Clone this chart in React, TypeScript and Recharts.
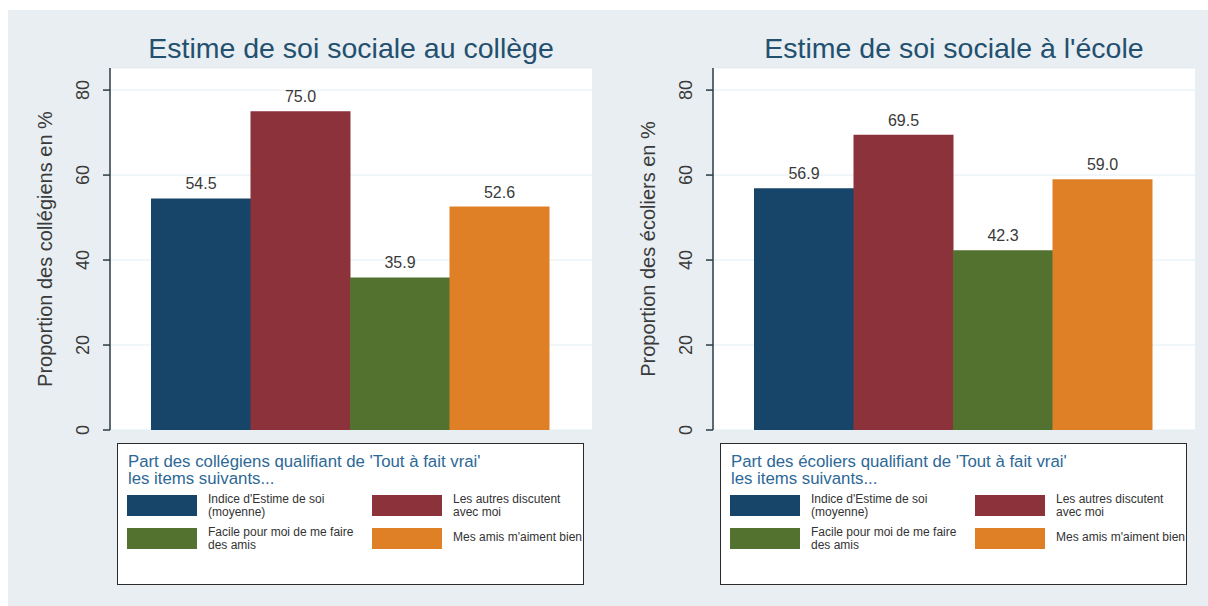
import { BarChart, Bar, XAxis, YAxis, CartesianGrid, Cell, LabelList } from 'recharts'

const items = [
  ["Indice d'Estime de soi", '(moyenne)'],
  ['Les autres discutent', 'avec moi'],
  ['Facile pour moi de me faire', 'des amis'],
  ["Mes amis m'aiment bien"]
]
const collegeValues = [54.5, 75.0, 35.9, 52.6]
const ecoleValues = [56.9, 69.5, 42.3, 59.0]
const yTicks = [0, 20, 40, 60, 80]

const COLORS = ['#164569', '#8b323a', '#53722f', '#e08026']
const FONT = '"Liberation Sans", Arial, Helvetica, sans-serif'

interface PanelProps {
  left: number
  title: string
  yLabel: string
  legendTitle: string[]
  values: number[]
}

function RotatedTick(props: any) {
  const { x, y, payload } = props
  return (
    <text
      x={x}
      y={y}
      transform={`rotate(-90, ${x}, ${y})`}
      textAnchor="middle"
      fontSize={18}
      fill="#3a3a3a"
      fontFamily={FONT}
    >
      {payload.value}
    </text>
  )
}

function Panel({ left, title, yLabel, legendTitle, values }: PanelProps) {
  const data = items.map((lines, i) => ({ name: lines.join(' '), value: values[i] }))

  return (
    <div style={{ position: 'absolute', left, top: 0, width: 600, height: 606 }}>
      <div
        style={{
          position: 'absolute', left: 60, width: 582, top: 30, textAlign: 'center',
          fontSize: 28.5, color: '#24506f', fontFamily: FONT, lineHeight: '36px', whiteSpace: 'nowrap'
        }}
      >
        {title}
      </div>
      <div
        style={{
          position: 'absolute', left: 45 - 200, top: 249 - 13, width: 400, height: 26,
          textAlign: 'center', fontSize: 20, lineHeight: '26px', color: '#3a3a3a',
          fontFamily: FONT, transform: 'rotate(-90deg)', whiteSpace: 'nowrap'
        }}
      >
        {yLabel}
      </div>

      <div style={{ position: 'absolute', left: 0, top: 0 }}>
        <BarChart
          width={600}
          height={450}
          data={data}
          margin={{ top: 68, right: 8, bottom: 20, left: 80 }}
          barCategoryGap={0}
        >
          <CartesianGrid vertical={false} stroke="#e2edf3" fill="#ffffff" />
          <XAxis
            dataKey="name"
            tick={false}
            tickLine={false}
            height={0}
            axisLine={{ stroke: '#1a1a1a', strokeWidth: 1.5 }}
            padding={{ left: 41, right: 43 }}
          />
          <YAxis
            width={30}
            domain={[0, 85.2]}
            ticks={yTicks}
            tickSize={7}
            tickMargin={14}
            axisLine={{ stroke: '#2b3b44', strokeWidth: 1.5 }}
            tickLine={{ stroke: '#2b3b44', strokeWidth: 1.5 }}
            tick={<RotatedTick />}
          />
          <Bar dataKey="value" isAnimationActive={false}>
            {data.map((_, i) => (
              <Cell key={`cell-${i}`} fill={COLORS[i]} />
            ))}
            <LabelList
              dataKey="value"
              position="top"
              offset={9}
              formatter={(v: any) => Number(v).toFixed(1)}
              fill="#3a3a3a"
              fontSize={16}
              fontFamily={FONT}
            />
          </Bar>
        </BarChart>
      </div>

      {/* legend box */}
      <div
        style={{
          position: 'absolute', left: 117, top: 443, width: 465, height: 140,
          background: '#fff', border: '1.5px solid #2a2a2a', overflow: 'hidden',
          fontFamily: FONT
        }}
      >
        <div style={{ position: 'absolute', left: 10, top: 9, fontSize: 16.8, lineHeight: '17px', color: '#2d6896', whiteSpace: 'nowrap' }}>
          {legendTitle.map((t, i) => <div key={i}>{t}</div>)}
        </div>
        {items.map((lines, i) => {
          const col = i % 2
          const row = Math.floor(i / 2)
          const sx = 9 + col * 245
          const sy = 51 + row * 33
          return (
            <div key={i}>
              <div style={{ position: 'absolute', left: sx, top: sy, width: 70, height: 21, background: COLORS[i] }} />
              <div
                style={{
                  position: 'absolute', left: sx + 81, top: sy + (lines.length === 1 ? 3 : -2),
                  fontSize: 12, lineHeight: '13px', color: '#333', whiteSpace: 'nowrap'
                }}
              >
                {lines.map((l, j) => <div key={j}>{l}</div>)}
              </div>
            </div>
          )
        })}
      </div>
    </div>
  )
}

export default function App() {
  return (
    <div style={{ position: 'absolute', left: 0, top: 0, width: 1208, height: 606, background: '#fff', overflow: 'hidden' }}>
      <div style={{ position: 'absolute', left: 8, top: 10, width: 1200, height: 596, background: '#e8eef1' }} />
      <Panel
        left={0}
        title="Estime de soi sociale au collège"
        yLabel="Proportion des collégiens en %"
        legendTitle={["Part des collégiens qualifiant de 'Tout à fait vrai'", 'les items suivants...']}
        values={collegeValues}
      />
      <Panel
        left={603}
        title="Estime de soi sociale à l'école"
        yLabel="Proportion des écoliers en %"
        legendTitle={["Part des écoliers qualifiant de 'Tout à fait vrai'", 'les items suivants...']}
        values={ecoleValues}
      />
    </div>
  )
}
